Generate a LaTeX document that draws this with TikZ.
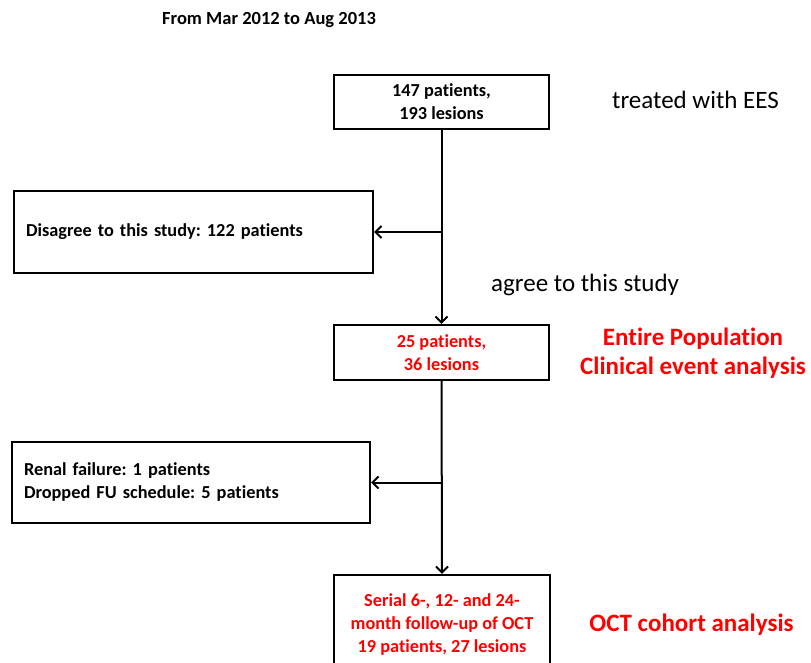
\documentclass[tikz,border=0pt]{standalone}
\usepackage{fontspec}
\setmainfont[Ligatures={NoCommon}]{Carlito}
\usetikzlibrary{arrows.meta}
\definecolor{redtxt}{RGB}{255,0,0}
\tikzset{
  flowbox/.style={draw=black, line width=2.2pt, inner sep=0pt, font=\fontsize{18.3}{23}\selectfont\bfseries},
  redbox/.style={flowbox, text=redtxt},
  sidelabel/.style={font=\fontsize{25}{29}\selectfont, anchor=west, inner sep=0pt},
  redlabel/.style={font=\fontsize{25}{29}\selectfont\bfseries, text=redtxt, align=center, inner sep=0pt},
  flowline/.style={line width=2pt},
  flowarrow/.style={line width=2pt, -{Straight Barb[length=6pt,width=12pt,line width=2pt]}}
}
\begin{document}
\frenchspacing
\begin{tikzpicture}[x=1pt,y=-1pt]
\clip (0,0) rectangle (811,662);
\fill[white] (0,0) rectangle (811,662);
\node[font=\fontsize{18.5}{19}\selectfont\bfseries, anchor=west, inner sep=0pt] (title) at (162,20) {From Mar 2012 to Aug 2013};
\node[flowbox, minimum width=215pt, minimum height=54pt, align=center] (b1) at (441.5,102) {147 patients,\\193 lesions};
\node[sidelabel] (l1) at (612,100) {treated with EES};
\node[flowbox, minimum width=359pt, minimum height=82pt, text width=335pt, align=left, inner xsep=12pt] (b2) at (193.5,232) {Disagree to this study: 122 patients};
\node[sidelabel] (l2) at (491,285) {agree to this study};
\node[redbox, minimum width=215pt, minimum height=55pt, align=center] (b3) at (441.5,352.5) {25 patients,\\36 lesions};
\node[redlabel] (l3) at (693,353) {Entire Population\\Clinical event analysis};
\node[flowbox, minimum width=358pt, minimum height=81pt, text width=334pt, align=left, inner xsep=12pt] (b4) at (191,482.5) {Renal failure: 1 patients\\Dropped FU schedule: 5 patients};
\node[redbox, minimum width=216pt, minimum height=100pt, align=center] (b5) at (442,625) {Serial 6-, 12- and 24-\\month follow-up of OCT\\19 patients, 27 lesions};
\node[redlabel] (l4) at (691.5,625) {OCT cohort analysis};
\coordinate (j1) at (b1.south |- b2.east);
\coordinate (j2) at (b3.south |- b4.east);
\draw[flowarrow] (b1.south) -- (b3.north);
\draw[flowarrow] (j1) -- (b2.east);
\draw[flowarrow] (b3.south) -- (b5.north);
\draw[flowarrow] (j2) -- (b4.east);
\end{tikzpicture}
\end{document}
